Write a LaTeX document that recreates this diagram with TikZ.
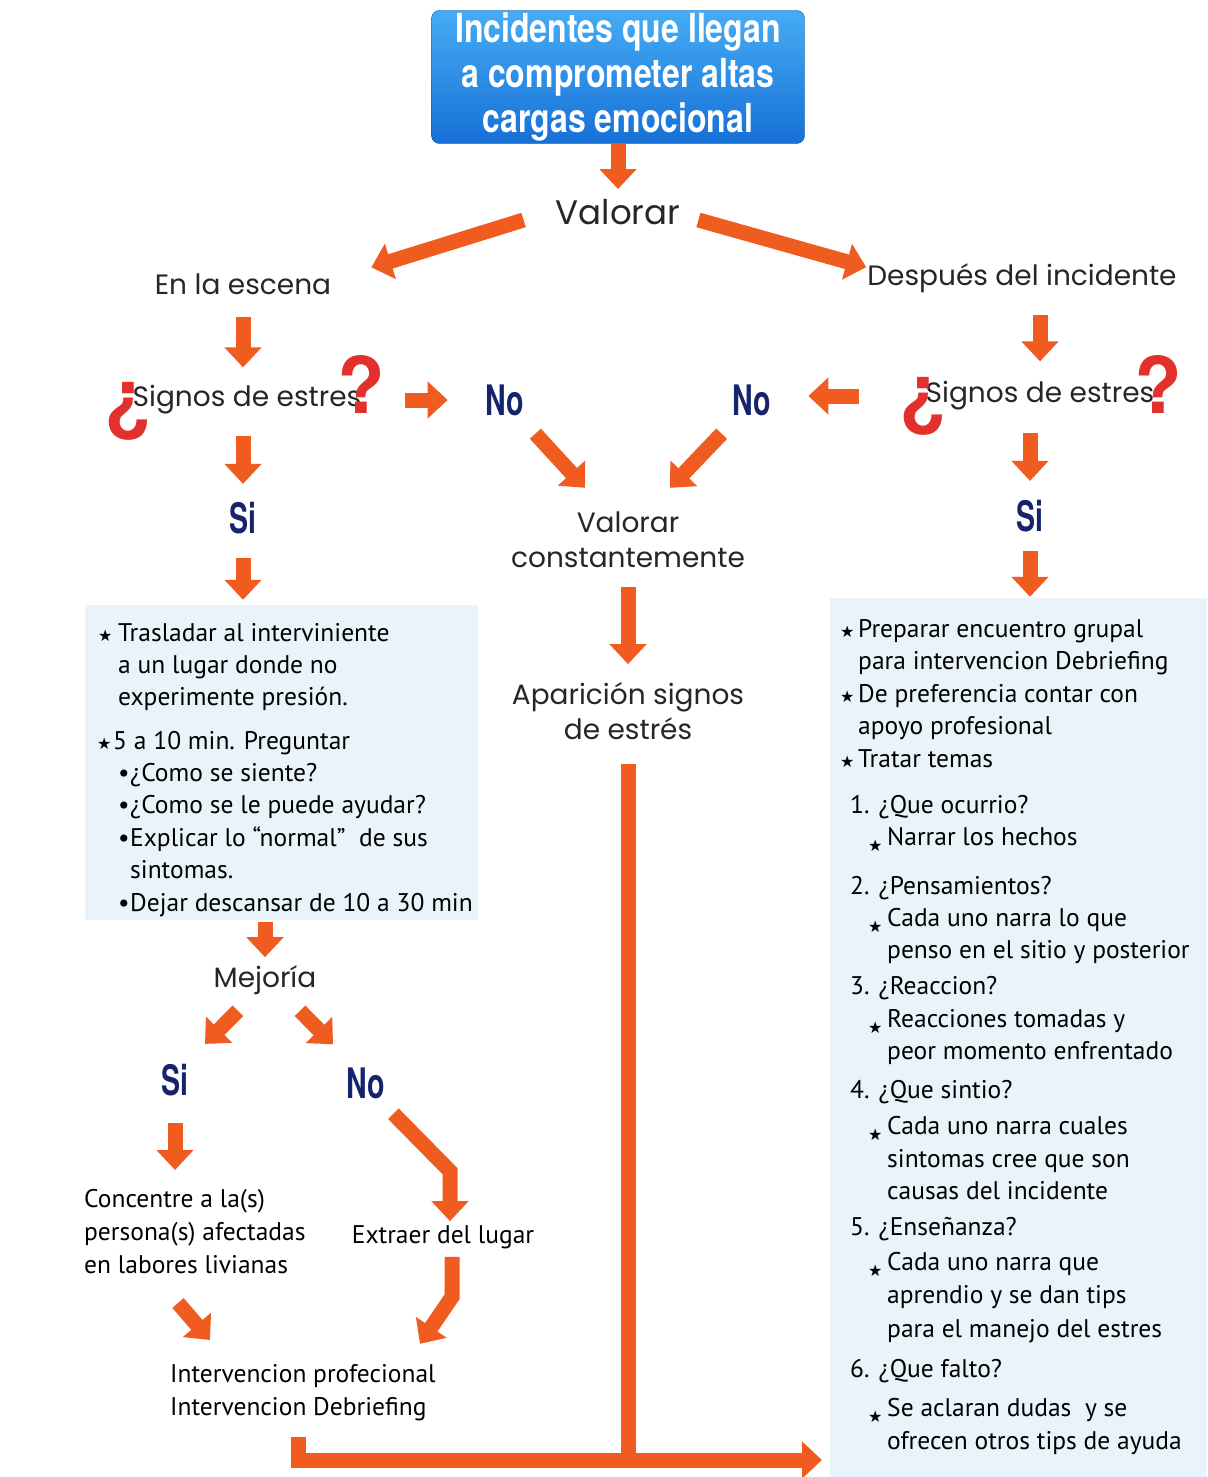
\documentclass[tikz,border=0pt]{standalone}
\usepackage{fontspec}
\setmainfont{PT Sans}
\newfontfamily\geofont{Poppins}
\newfontfamily\condfont[FakeStretch=0.68]{TeX Gyre Heros}
\newfontfamily\ttlfont[FakeStretch=0.8]{TeX Gyre Heros}
\newfontfamily\qfont{TeX Gyre Heros}
\newfontfamily\symfont{DejaVu Sans}
\usetikzlibrary{arrows.meta,calc}
\definecolor{flecha}{RGB}{240,92,32}
\definecolor{marino}{RGB}{22,36,110}
\definecolor{celeste}{RGB}{232,244,250}
\definecolor{rojo}{RGB}{226,48,44}
\definecolor{azulA}{RGB}{70,172,245}
\definecolor{azulB}{RGB}{22,112,214}
\tikzset{g/.style={font=\geofont\fontsize{28}{35}\selectfont, text=black!85, align=center, inner sep=2pt}}
\tikzset{t/.style={font=\fontsize{25.5}{33}\selectfont, text=black, anchor=base west, inner sep=0pt}}
\tikzset{tb/.style={font=\fontsize{25.5}{33}\selectfont, text=black, align=left, inner sep=0pt}}
\tikzset{sn/.style={font=\condfont\bfseries\fontsize{42}{42}\selectfont, text=marino, inner sep=2pt}}
\tikzset{qm/.style={font=\qfont\bfseries\fontsize{78}{78}\selectfont, text=rojo, inner sep=0pt}}
\tikzset{panel/.style={fill=celeste, draw=none, inner sep=0pt}}
\tikzset{ttl/.style={rounded corners=8pt, top color=azulA, bottom color=azulB, draw=azulB!70!black,
  text=white, font=\ttlfont\bfseries\fontsize{40}{45}\selectfont, align=center,
  minimum width=373pt, minimum height=133pt, inner sep=0pt}}
\tikzset{blk/.style={draw=flecha, line width=15pt, line join=miter, -{Triangle[width=36pt,length=20pt]}}}
\tikzset{bar/.style={draw=flecha, line width=15pt}}
\newcommand{\st}[1][18pt]{\makebox[#1][l]{\symfont\fontsize{16}{16}\selectfont ★}}
\newcommand{\sst}{\makebox[19pt][l]{\raisebox{-6pt}{\symfont\fontsize{16}{16}\selectfont ★}}}
\newcommand{\bu}{\makebox[12pt][l]{•}}

\begin{document}
\begin{tikzpicture}[x=1pt,y=-1pt]
  \useasboundingbox[fill=white] (0,0) rectangle (1207,1477);
  % fondos
  \node[panel, minimum width=393pt, minimum height=315pt] (lp) at (281.5,762.5) {};
  \node[panel, minimum width=377pt, minimum height=879pt] (rp) at (1018.5,1037.5) {};
  % titulo y primer nivel
  \node[ttl] (tit) at (618,77) {Incidentes que llegan\\a comprometer altas\\cargas emocional};
  \node[g, font=\geofont\fontsize{34}{40}\selectfont] (val) at (618,212) {Valorar};
  \node[g] (esc) at (243,284) {En la escena};
  \node[g] (desp) at (1022,278) {Después del incidente};
  \node[g] (sigL) at (247,400) {Signos de estres};
  \node[g] (sigR) at (1040,396) {Signos de estres};
  \node[qm] (aL) at (128,411) {¿};
  \node[qm] (bL) at (361,384) {?};
  \node[qm] (aR) at (923,406) {¿};
  \node[qm] (bR) at (1158,384) {?};
  \node[sn] (noL) at (505,400) {No};
  \node[sn] (noR) at (752,400) {No};
  \node[sn] (siL) at (243,518) {Si};
  \node[sn] (siR) at (1030,516) {Si};
  \node[g] (vcons) at (628,540) {Valorar\\constantemente};
  \node[g] (apar) at (628,711) {Aparición signos\\de estrés};
  % columna izquierda
  \foreach \yy/\xx/\txt [count=\i] in {
      633/98/{\st[20pt]Trasladar al interviniente},
      665/118/a un lugar donde no,
      697/118/experimente presión.,
      741/97/{\st[16pt]5 a 10 min. Preguntar},
      773/118/{\bu¿Como se siente?},
      805/118/{\bu¿Como se le puede ayudar?},
      838/118/{\bu Explicar lo “normal”\ \ de sus},
      870/130/sintomas.,
      903/118/{\bu Dejar descansar de 10 a 30 min}}
    \node[t] (l\i) at (\xx,{\yy+8}) {\txt};
  \node[g] (mej) at (265,980) {Mejoría};
  \node[sn] (siB) at (175,1080) {Si};
  \node[sn] (noB) at (366,1083) {No};
  \node[tb, anchor=north west] (conc) at (84,1189) {Concentre a la(s)\\persona(s) afectadas\\en labores livianas};
  \node[tb] (ext) at (443,1237) {Extraer del lugar};
  \node[tb, anchor=north west] (intv) at (170,1364) {Intervencion profecional\\Intervencion Debriefing};
  % columna derecha
  \foreach \yy/\xx/\txt [count=\i] in {
      629/840/{\st Preparar encuentro grupal},
      661/858/para intervencion Debriefing,
      694/840/{\st De preferencia contar con},
      726/858/apoyo profesional,
      759/840/{\st Tratar temas},
      805/850/1. ¿Que ocurrio?,
      837/868/{\sst Narrar los hechos},
      886/850/2. ¿Pensamientos?,
      918/868/{\sst Cada uno narra lo que},
      950/887/penso en el sitio y posterior,
      986/850/3. ¿Reaccion?,
      1019/868/{\sst Reacciones tomadas y},
      1051/887/peor momento enfrentado,
      1090/850/4. ¿Que sintio?,
      1126/868/{\sst Cada uno narra cuales},
      1159/887/sintomas cree que son,
      1191/887/causas del incidente,
      1227/850/5. ¿Enseñanza?,
      1262/868/{\sst Cada uno narra que},
      1295/887/aprendio y se dan tips,
      1329/887/para el manejo del estres,
      1369/850/6. ¿Que falto?,
      1408/868/{\sst Se aclaran dudas \ y se},
      1441/887/ofrecen otros tips de ayuda}
    \node[t] (r\i) at (\xx,{\yy+8}) {\txt};
  % flechas
  \draw[blk, shorten >=8pt] (tit) -- (val);
  \draw[blk] ($(val.west)+(-30,8)$) -- ($(esc.north east)+(38,-4)$);
  \draw[blk] ($(val.east)+(16,8)$) -- ($(desp.north west)+(1,6)$);
  \draw[blk, shorten <=20pt, shorten >=16pt] (esc.south) -- (esc.south |- sigL.north);
  \draw[blk, shorten <=20pt, shorten >=18pt] (sigR.north |- desp.south) -- (sigR.north);
  \draw[blk, shorten <=42pt, shorten >=36pt] (sigL.east) -- (noL.west);
  \draw[blk, shorten <=65pt, shorten >=35pt] (sigR.west) -- (sigR.west -| noR.east);
  \draw[blk] ($(noL.south east)+(9,16)$) -- ($(vcons.north)+(-43,-22)$);
  \draw[blk] ($(noR.south west)+(-9,16)$) -- ($(vcons.north)+(42,-22)$);
  \draw[blk, shorten <=17pt, shorten >=16pt] (vcons.south) -- (apar.north);
  \draw[blk, shorten <=19pt, shorten >=16pt] (siL.north |- sigL.south) -- (siL.north);
  \draw[blk, shorten <=22pt, shorten >=5pt] (siL.south) -- (siL |- lp.north);
  \draw[blk, shorten <=20pt, shorten >=17pt] (siR.north |- sigR.south) -- (siR.north);
  \draw[blk, shorten <=17pt, shorten >=1pt] (siR.south) -- (siR |- rp.north);
  \draw[blk, shorten <=2pt, shorten >=6pt] (mej |- lp.south) -- (mej.north);
  \draw[blk] ($(mej.south)+(-27,14)$) -- ($(siB.north)+(30,-18)$);
  \draw[blk] ($(mej.south)+(35,14)$) -- ($(noB.north)+(-33,-21)$);
  \draw[blk, shorten <=25pt, shorten >=19pt] (siB.south) -- (siB.south |- conc.north);
  \draw[blk] ($(noB.south east)+(6,13)$) -- ($(ext.north)+(7,-54)$) -- ($(ext.north)+(7,-4)$);
  \draw[blk] ($(ext.south)+(9,8)$) -- ($(ext.south)+(9,48)$) -- ($(ext.south)+(-23,95)$);
  \draw[blk] ($(intv.north west)+(8,-61)$) -- ($(intv.north west)+(40,-24)$);
  % conector inferior
  \coordinate (ini) at (298,1437);
  \coordinate (fin) at (822,1460);
  \draw[bar, shorten <=22pt] (apar.south) -- (apar.south |- fin);
  \draw[blk] (ini) -- (ini |- fin) -- (fin);
\end{tikzpicture}
\end{document}
